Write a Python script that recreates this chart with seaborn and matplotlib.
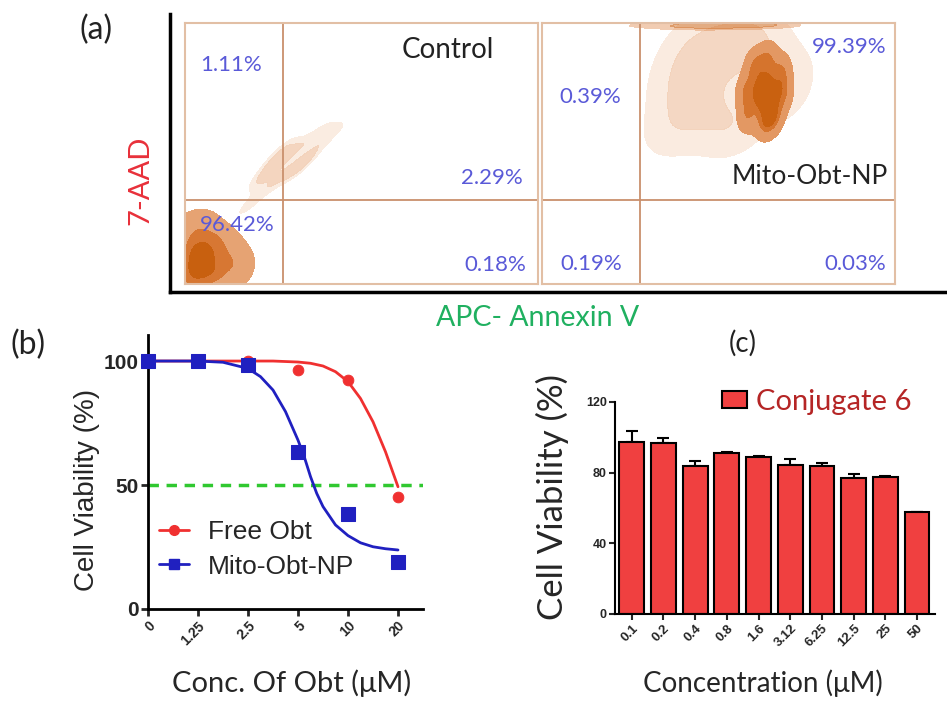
import numpy as np
import seaborn as sns
import matplotlib.pyplot as plt
from matplotlib.colors import LinearSegmentedColormap
from matplotlib.lines import Line2D
from matplotlib.patches import Patch

# ---- (a) flow cytometry: quadrant percentages and event clouds (0-1 log scale)
ctrl_pct = ['1.11%', '2.29%', '96.42%', '0.18%']
mito_pct = ['0.39%', '99.39%', '0.19%', '0.03%']
gate_x = 0.278
gate_y = 0.322

ctrl_core_x = [0.02, 0.04, 0.08, 0.03, 0.07, 0.12, 0.02, 0.06, 0.15, 0.10, 0.05, 0.13, 0.17]
ctrl_core_y = [0.03, 0.07, 0.04, 0.13, 0.15, 0.08, 0.21, 0.23, 0.05, 0.18, 0.10, 0.14, 0.10]
ctrl_core_w = [6, 6, 5, 5, 4, 3, 3, 2, 2, 2, 6, 2, 1]
ctrl_streak_x = [0.18, 0.22, 0.26, 0.30, 0.34, 0.38, 0.42, 0.24, 0.32, 0.28]
ctrl_streak_y = [0.30, 0.40, 0.40, 0.50, 0.48, 0.58, 0.58, 0.45, 0.44, 0.52]

mito_core_x = [0.63, 0.58, 0.68, 0.60, 0.66, 0.63, 0.64, 0.575, 0.685]
mito_core_y = [0.735, 0.64, 0.82, 0.84, 0.64, 0.61, 0.87, 0.74, 0.73]
mito_core_w = [2, 1, 1, 1, 1, 1, 1, 1, 1]
mito_halo_x = [0.36, 0.40, 0.46, 0.52, 0.44, 0.56, 0.62, 0.70, 0.54, 0.38, 0.49, 0.58, 0.68, 0.42]
mito_halo_y = [0.57, 0.66, 0.72, 0.62, 0.82, 0.90, 0.90, 0.82, 0.58, 0.78, 0.94, 0.96, 0.70, 0.92]
mito_band_x = [0.31, 0.36, 0.42, 0.48, 0.54, 0.60, 0.63]
mito_band_y = [0.99, 1.01, 0.98, 1.0, 0.985, 1.0, 0.99]

# ---- (b) dose response
conc_b = ['0', '1.25', '2.5', '5', '10', '20']
free_obt = [100, 100, 100, 96.5, 92.5, 45.3]
mito_obt = [100, 100, 98.4, 63.4, 38.3, 19.0]
red_pos = [0, 2, 2.5, 3, 3.25, 3.5, 3.75, 4, 4.25, 4.5, 4.75, 5]
red_fit = [100, 100, 100, 99.6, 99.1, 98.0, 95.7, 91.7, 84.9, 75.5, 63.4, 49.3]
blue_pos = [0, 1, 1.5, 2, 2.25, 2.5, 2.75, 3, 3.125, 3.25, 3.375, 3.5, 3.75, 4, 4.25, 4.5, 4.75, 5]
blue_fit = [100, 100, 99.5, 97.0, 93.7, 88.3, 79.6, 68.1, 61.4, 53.4, 46.6, 41.3, 33.9, 29.6, 26.7, 25.1, 24.3, 23.8]

# ---- (c) conjugate 6
conc_c = ['0.1', '0.2', '0.4', '0.8', '1.6', '3.12', '6.25', '12.5', '25', '50']
viab_c = [97.3, 96.8, 83.6, 91.0, 88.9, 84.6, 83.8, 76.7, 77.6, 57.6]
err_c = [6.1, 2.6, 3.0, 0.5, 0.4, 2.9, 1.9, 2.8, 0.4, 0.4]

sns.set_style('white')
plt.rcParams['font.family'] = ['Lato', 'DejaVu Sans']
ARIAL = ['Liberation Sans', 'DejaVu Sans']

W, H = 947, 701


def box(l, t, r, b):
    return [l / W, 1 - b / H, (r - l) / W, (b - t) / H]


def ftext(x, y, s, **kw):
    fig.text(x / W, 1 - y / H, s, ha='center', va='center', **kw)


fig = plt.figure(figsize=(9.47, 7.01), dpi=100)

# ---------------- (a)
ax_f = fig.add_axes(box(170, 14, 947, 292))
ax_f.set_facecolor('none')
for s in ['top', 'right']:
    ax_f.spines[s].set_visible(False)
for s in ['left', 'bottom']:
    ax_f.spines[s].set_linewidth(2.5)
    ax_f.spines[s].set_color('black')
ax_f.set_xticks([])
ax_f.set_yticks([])

orange = LinearSegmentedColormap.from_list('fl', ['#eebc98', '#dc8040', '#cc6414', '#c25a08'])
faint = LinearSegmentedColormap.from_list('fl2', ['#fdf4ee', '#f6dcc8', '#efc3a3'])

ax_c1 = fig.add_axes(box(185, 23, 538, 284))
ax_c2 = fig.add_axes(box(542, 23, 895, 284))
for ax in [ax_c1, ax_c2]:
    ax.set_xlim(0, 1)
    ax.set_ylim(0, 1)
    ax.set_xticks([])
    ax.set_yticks([])
    for s in ax.spines.values():
        s.set_color('#e2bfa5')
        s.set_linewidth(1.5)

sns.kdeplot(x=ctrl_streak_x, y=ctrl_streak_y, fill=True, cmap=faint, levels=3,
            thresh=0.25, bw_adjust=0.8, alpha=0.9, ax=ax_c1)
sns.kdeplot(x=ctrl_core_x, y=ctrl_core_y, weights=ctrl_core_w, fill=True, cmap=orange,
            levels=4, thresh=0.05, bw_adjust=1.0, ax=ax_c1)

sns.kdeplot(x=mito_halo_x, y=mito_halo_y, fill=True, cmap=faint, levels=3,
            thresh=0.15, bw_adjust=1.0, alpha=0.8, ax=ax_c2)
sns.kdeplot(x=mito_band_x, y=mito_band_y, fill=True, cmap=orange, levels=3,
            thresh=0.3, bw_adjust=1.2, alpha=0.45, ax=ax_c2)
sns.kdeplot(x=mito_core_x, y=mito_core_y, weights=mito_core_w, fill=True, cmap=orange,
            levels=4, thresh=0.12, bw_adjust=0.8, ax=ax_c2)

for ax in [ax_c1, ax_c2]:
    ax.axvline(gate_x, color='#c9906c', lw=1.3)
    ax.axhline(gate_y, color='#c9906c', lw=1.3)
    ax.set_xlim(0, 1)
    ax.set_ylim(0, 1)

pct_col = '#5a5ad8'
ftext(231, 65, ctrl_pct[0], color=pct_col, fontsize=16)
ftext(492, 178, ctrl_pct[1], color=pct_col, fontsize=16)
ftext(237, 225, ctrl_pct[2], color=pct_col, fontsize=16)
ftext(495, 265, ctrl_pct[3], color=pct_col, fontsize=16)
ftext(590, 97, mito_pct[0], color=pct_col, fontsize=16)
ftext(849, 47, mito_pct[1], color=pct_col, fontsize=16)
ftext(591, 264, mito_pct[2], color=pct_col, fontsize=16)
ftext(855, 264, mito_pct[3], color=pct_col, fontsize=16)
ftext(448, 50, 'Control', color='#222222', fontsize=20)
ftext(810, 177, 'Mito-Obt-NP', color='#222222', fontsize=19)
ftext(96, 30, '(a)', fontsize=23, color='#222222')
ftext(140, 180, '7-AAD', color='#e8303a', fontsize=21, rotation=90)
ftext(538, 318, 'APC- Annexin V', color='#20b060', fontsize=20.5)

# ---------------- (b)
red = '#f03030'
blue = '#2020c0'
ax_b = fig.add_axes(box(148, 335, 423, 609))
ax_b.set_facecolor('none')
ax_b.axhline(50, color='#30c830', lw=2.5, ls=(0, (3, 2.2)), zorder=1)
sns.lineplot(x=red_pos, y=red_fit, color=red, lw=2, ax=ax_b, zorder=2)
sns.lineplot(x=blue_pos, y=blue_fit, color=blue, lw=2, ax=ax_b, zorder=2)
sns.scatterplot(x=list(range(6)), y=free_obt, marker='o', s=60, color=red,
                edgecolor=red, ax=ax_b, zorder=3, clip_on=False)
sns.scatterplot(x=list(range(6)), y=mito_obt, marker='s', s=90, color=blue,
                edgecolor=blue, ax=ax_b, zorder=3, clip_on=False)
ax_b.set_xlim(0, 5.5)
ax_b.set_ylim(0, 110.5)
for s in ['top', 'right']:
    ax_b.spines[s].set_visible(False)
for s in ['left', 'bottom']:
    ax_b.spines[s].set_linewidth(2)
    ax_b.spines[s].set_color('black')
ax_b.set_xticks(range(6))
ax_b.set_xticklabels(conc_b, rotation=45, ha='right', rotation_mode='anchor',
                     fontweight='bold', fontsize=10, family=ARIAL)
ax_b.set_yticks([0, 50, 100])
ax_b.set_yticklabels(['0', '50', '100'], fontweight='bold', fontsize=15, family=ARIAL)
ax_b.tick_params(direction='out', length=5, width=2, left=True, bottom=True, pad=2)
ax_b.set_xlabel('')
ax_b.set_ylabel('')
handles = [Line2D([], [], color=red, marker='o', ms=7, lw=2),
           Line2D([], [], color=blue, marker='s', ms=7, lw=2)]
ax_b.legend(handles, ['Free Obt', 'Mito-Obt-NP'], loc='lower left',
            bbox_to_anchor=(0.02, 0.092), borderaxespad=0, borderpad=0.2, frameon=False,
            handlelength=1.15, handletextpad=0.7, labelspacing=0.4,
            prop={'family': ARIAL, 'size': 19})
ftext(87, 490, 'Cell Viability (%)', fontsize=20, family=ARIAL, rotation=90)
ftext(292, 683, 'Conc. Of Obt (μM)', fontsize=21)
ftext(28, 345, '(b)', fontsize=23, color='#222222')

# ---------------- (c)
bar_red = '#f04040'
ax_c = fig.add_axes(box(615, 402, 935, 614))
ax_c.set_facecolor('none')
ax_c.errorbar(range(10), viab_c, yerr=[np.zeros(10), err_c], fmt='none',
              ecolor='black', elinewidth=1.5, capsize=4, capthick=1.5, zorder=1)
sns.barplot(x=conc_c, y=viab_c, order=conc_c, color=bar_red, saturation=1,
            edgecolor='black', linewidth=1.5, width=0.78, ax=ax_c, zorder=2)
ax_c.set_xlim(-0.53, 9.57)
ax_c.set_ylim(0, 120)
for s in ['top', 'right']:
    ax_c.spines[s].set_visible(False)
for s in ['left', 'bottom']:
    ax_c.spines[s].set_linewidth(1.5)
    ax_c.spines[s].set_color('black')
ax_c.set_xticks(range(10))
ax_c.set_xticklabels(conc_c, rotation=45, ha='right', rotation_mode='anchor',
                     fontweight='bold', fontsize=9.5, family=ARIAL)
ax_c.set_yticks([0, 40, 80, 120])
ax_c.set_yticklabels(['0', '40', '80', '120'], fontweight='bold', fontsize=9, family=ARIAL)
ax_c.tick_params(direction='out', length=4, width=1.5, left=True, bottom=True, pad=2)
ax_c.set_xlabel('')
ax_c.set_ylabel('')
leg = ax_c.legend([Patch(facecolor=bar_red, edgecolor='black', linewidth=1.5)],
                  ['Conjugate 6'], loc='center left', bbox_to_anchor=(0.334, 1.0),
                  borderaxespad=0, borderpad=0, frameon=False,
                  handlelength=0.87, handleheight=0.55,
                  handletextpad=0.3, prop={'size': 21})
for t in leg.get_texts():
    t.set_color('#b52525')
ftext(552, 497, 'Cell Viability (%)', fontsize=25, rotation=90)
ftext(763, 683, 'Concentration (μM)', fontsize=20)
ftext(743, 343, '(c)', fontsize=20, color='#222222')

fig.savefig('out.png', dpi=100)
